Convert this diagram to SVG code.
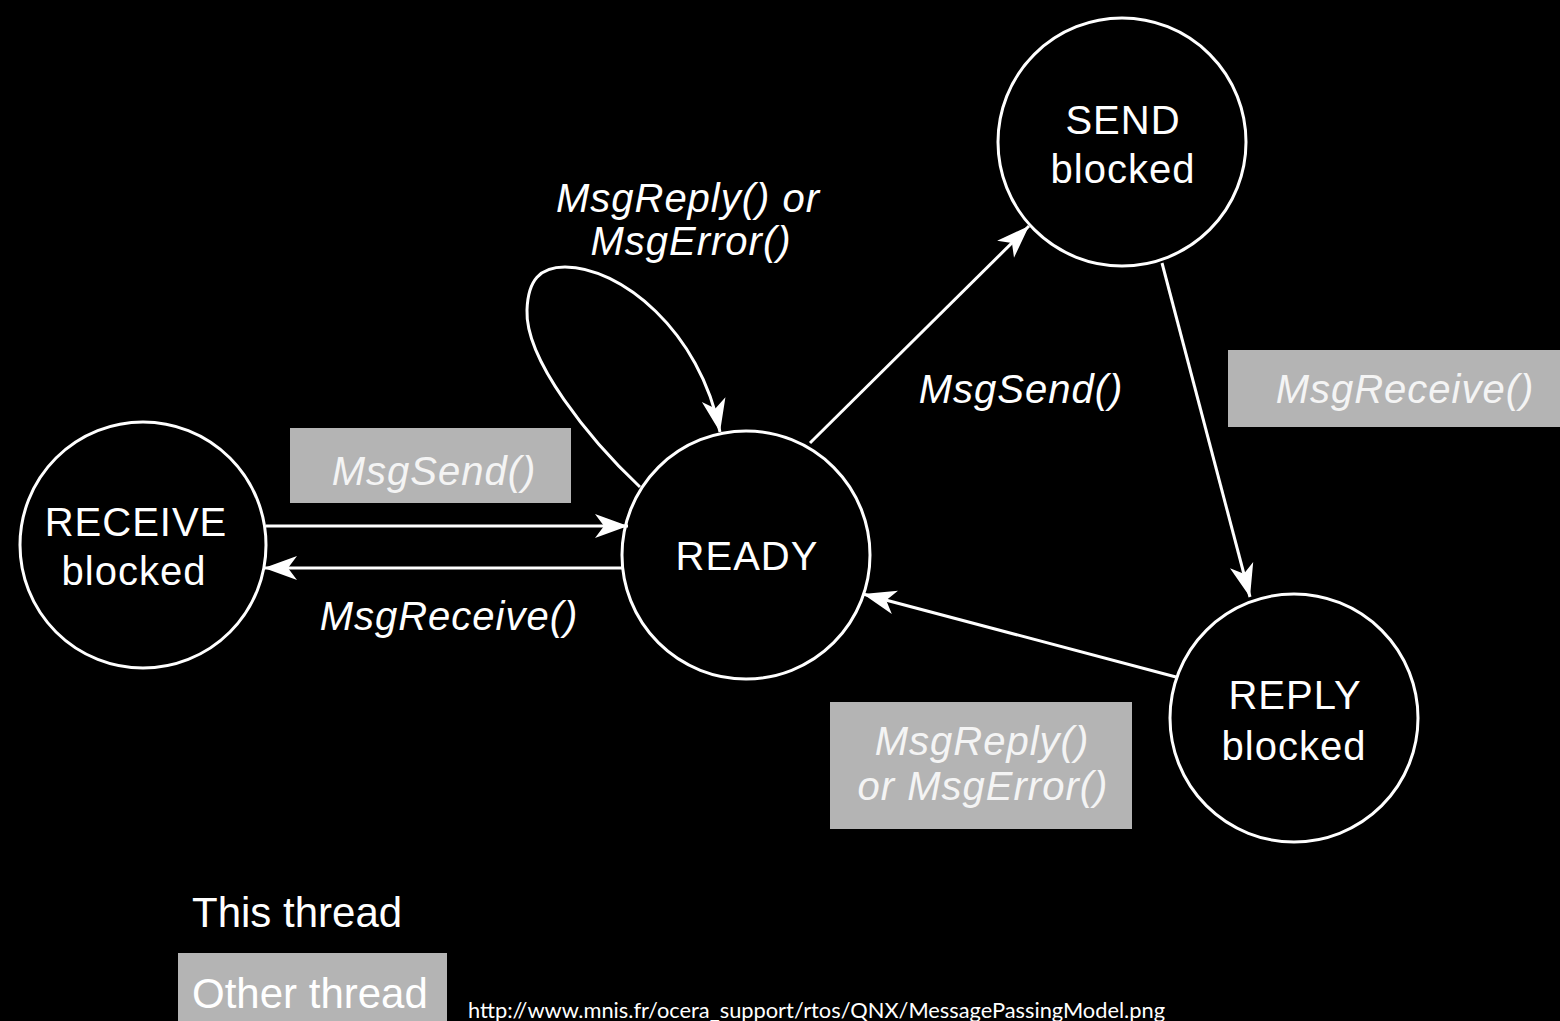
<svg xmlns="http://www.w3.org/2000/svg" width="1560" height="1021" viewBox="0 0 1560 1021">
  <style>
    .state { fill: none; stroke: #ffffff; stroke-width: 3; }
    .slabel { font-family: "Liberation Sans", Arial, sans-serif; font-size: 40px; fill: #ffffff; text-anchor: middle; letter-spacing: 1px; }
    .call { font-family: "Liberation Sans", Arial, sans-serif; font-size: 40px; font-style: italic; fill: #ffffff; text-anchor: middle; letter-spacing: 1px; }
    .other { fill: #b4b4b4; }
    .otext { font-family: "Liberation Sans", Arial, sans-serif; font-size: 40px; font-style: italic; fill: #f4f4f4; text-anchor: middle; letter-spacing: 1px; }
    .edge { fill: none; stroke: #ffffff; stroke-width: 3; marker-end: url(#head); }
    .legend { font-family: "Liberation Sans", Arial, sans-serif; font-size: 42px; fill: #ffffff; }
    .url { font-family: Lato, "Open Sans", sans-serif; font-size: 21px; fill: #ffffff; }
  </style>
  <defs>
    <marker id="head" viewBox="-34 -13 36 26" refX="0" refY="0" markerWidth="36" markerHeight="26" markerUnits="userSpaceOnUse" orient="auto">
      <path d="M0,0 L-33,-12 L-24,0 L-33,12 Z" fill="#ffffff"/>
    </marker>
  </defs>

  <rect x="0" y="0" width="1560" height="1021" fill="#000000"/>

  <!-- transitions -->
  <g id="connectors">
    <path class="edge" d="M 266 526 L 628 526"/>
    <path class="edge" d="M 622 568 L 264 568"/>
    <path class="edge" d="M 640 487 C 590 440, 525 360, 527 310 C 528 280, 540 267, 565 267 C 620 267, 700 330, 720 432"/>
    <path class="edge" d="M 810 443 L 1029 226"/>
    <path class="edge" d="M 1162 263 L 1250 597"/>
    <path class="edge" d="M 1176 677 L 863 594"/>
  </g>

  <!-- calls made by this thread -->
  <g id="label-loop">
    <text class="call" x="688" y="212">MsgReply() or</text>
    <text class="call" x="691" y="255">MsgError()</text>
  </g>
  <g id="label-send">
    <text class="call" x="1021" y="403">MsgSend()</text>
  </g>
  <g id="label-receive">
    <text class="call" x="449" y="630">MsgReceive()</text>
  </g>

  <!-- calls made by another thread -->
  <g id="label-other-send">
    <rect class="other" x="290" y="428" width="281" height="75"/>
    <text class="otext" x="434" y="485">MsgSend()</text>
  </g>
  <g id="label-other-receive">
    <rect class="other" x="1228" y="350" width="332" height="77"/>
    <text class="otext" x="1405" y="403">MsgReceive()</text>
  </g>
  <g id="label-other-reply">
    <rect class="other" x="830" y="702" width="302" height="127"/>
    <text class="otext" x="982" y="755">MsgReply()</text>
    <text class="otext" x="983" y="800">or MsgError()</text>
  </g>

  <!-- states -->
  <g id="receive-blocked">
    <circle class="state" cx="143" cy="545" r="123"/>
    <text class="slabel" x="136" y="536">RECEIVE</text>
    <text class="slabel" x="134" y="585">blocked</text>
  </g>
  <g id="ready">
    <circle class="state" cx="746" cy="555" r="124"/>
    <text class="slabel" x="747" y="570">READY</text>
  </g>
  <g id="send-blocked">
    <circle class="state" cx="1122" cy="142" r="124"/>
    <text class="slabel" x="1123" y="134">SEND</text>
    <text class="slabel" x="1123" y="183">blocked</text>
  </g>
  <g id="reply-blocked">
    <circle class="state" cx="1294" cy="718" r="124"/>
    <text class="slabel" x="1295" y="709">REPLY</text>
    <text class="slabel" x="1294" y="760">blocked</text>
  </g>

  <!-- key -->
  <g id="legend-this">
    <text class="legend" x="192" y="927">This thread</text>
  </g>
  <g id="legend-other">
    <rect class="other" x="178" y="953" width="269" height="68"/>
    <text class="legend" x="192" y="1008" fill="#f4f4f4">Other thread</text>
  </g>

  <text class="url" x="468" y="1018" textLength="697" lengthAdjust="spacingAndGlyphs">http://www.mnis.fr/ocera_support/rtos/QNX/MessagePassingModel.png</text>
</svg>
